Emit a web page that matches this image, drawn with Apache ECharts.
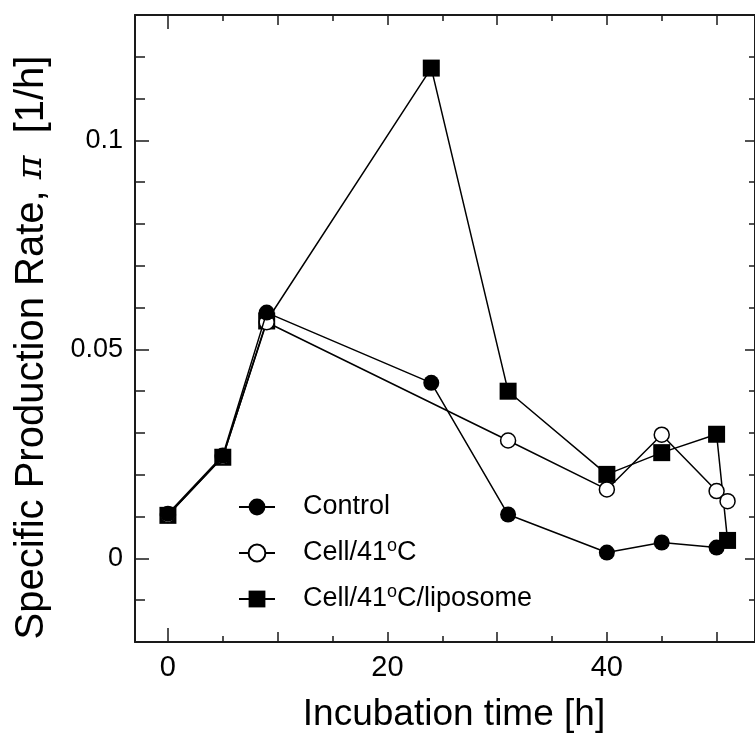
<!DOCTYPE html>
<html>
<head>
<meta charset="utf-8">
<script src="https://cdn.jsdelivr.net/npm/echarts@6/dist/echarts.min.js"></script>
<style>
  html, body { margin: 0; padding: 0; background: #fff; }
  #chart { width: 755px; height: 753px; }
</style>
</head>
<body>
<div id="chart"></div>
<script>
// Incubation time [h] for each series
var timeControl = [0, 5, 9, 24, 31, 40, 45, 50];
var timeCell41 = [0, 5, 9, 31, 40, 45, 50, 51];
var timeLiposome = [0, 5, 9, 24, 31, 40, 45, 50, 51];

// Specific production rate, pi [1/h]
var rateControl = [0.0107, 0.0246, 0.0588, 0.0420, 0.0105, 0.0014, 0.0038, 0.0026];
var rateCell41 = [0.0104, 0.0243, 0.0565, 0.0282, 0.0165, 0.0296, 0.0161, 0.0137];
var rateLiposome = [0.0103, 0.0242, 0.0568, 0.1173, 0.0400, 0.0201, 0.0253, 0.0297, 0.0043];

var seriesNames = ['Control', 'Cell/41°C', 'Cell/41°C/liposome'];

// Axis ticks and labels
var xLabelTicks = [0, 20, 40];
var xZeroTick = [0];
var xMajorTicks = [10, 20, 30, 40, 50];
var xMinorTicks = [5, 15, 25, 35, 45];
var yLabelTicks = [0, 0.05, 0.1];
var yMinorTicks = [-0.01, 0.01, 0.02, 0.03, 0.04, 0.06, 0.07, 0.08, 0.09, 0.11, 0.12];

var X_MIN = -3, X_MAX = 53.5;
var Y_MIN = -0.02, Y_MAX = 0.13;

function zip(xs, ys) {
  return xs.map(function (x, i) { return [x, ys[i]]; });
}

var FONT = 'Liberation Sans, Arial, sans-serif';
var AXIS_COLOR = '#1a1a1a';

function xAxisDef(pos, opts) {
  var base = {
    type: 'value', position: pos, min: X_MIN, max: X_MAX,
    splitLine: { show: false },
    axisLine: { show: false, onZero: false },
    axisLabel: { show: false },
    axisTick: { show: false }
  };
  return Object.assign(base, opts);
}
function yAxisDef(pos, opts) {
  var base = {
    type: 'value', position: pos, min: Y_MIN, max: Y_MAX,
    splitLine: { show: false },
    axisLine: { show: false, onZero: false },
    axisLabel: { show: false },
    axisTick: { show: false }
  };
  return Object.assign(base, opts);
}
function ticks(values, len, width) {
  return { show: true, inside: true, length: len, customValues: values,
           lineStyle: { color: AXIS_COLOR, width: width || 1.5 } };
}

var chart = echarts.init(document.getElementById('chart'), null, { renderer: 'canvas' });

var option = {
  backgroundColor: '#ffffff',
  animation: false,
  grid: { left: 135, top: 15, width: 621.5, height: 627, containLabel: false },
  legend: {
    orient: 'vertical',
    left: 238,
    top: 491,
    padding: 0,
    itemWidth: 36,
    itemHeight: 21,
    itemGap: 14,
    data: seriesNames,
    formatter: function (name) { return name.replace('°', '{sup|o}'); },
    textStyle: {
      fontFamily: FONT, fontSize: 27, color: '#000', lineHeight: 32,
      padding: [0, 0, 0, 23],
      rich: {
        sup: { fontFamily: FONT, fontSize: 18, lineHeight: 18, verticalAlign: 'top', color: '#000' }
      }
    }
  },
  xAxis: [
    xAxisDef('bottom', {
      name: 'Incubation time [h]',
      nameLocation: 'middle',
      nameGap: 54,
      nameTextStyle: { fontFamily: FONT, fontSize: 37, color: '#000', padding: [0, 0, 0, 18] },
      axisLine: { show: true, onZero: false, lineStyle: { color: AXIS_COLOR, width: 2 } },
      axisLabel: { show: true, customValues: xLabelTicks, margin: 11, fontFamily: FONT, fontSize: 29, color: '#000' },
      axisTick: ticks(xZeroTick, 14)
    }),
    xAxisDef('bottom', { axisTick: ticks(xMajorTicks, 10), axisLabel: { show: false, customValues: xMajorTicks } }),
    xAxisDef('bottom', { axisTick: ticks(xMinorTicks, 6), axisLabel: { show: false, customValues: xMinorTicks } }),
    xAxisDef('top', {
      axisLine: { show: true, onZero: false, lineStyle: { color: AXIS_COLOR, width: 2 } },
      axisTick: ticks(xZeroTick, 14), axisLabel: { show: false, customValues: xZeroTick }
    }),
    xAxisDef('top', { axisTick: ticks(xMajorTicks, 10), axisLabel: { show: false, customValues: xMajorTicks } }),
    xAxisDef('top', { axisTick: ticks(xMinorTicks, 6), axisLabel: { show: false, customValues: xMinorTicks } })
  ],
  yAxis: [
    yAxisDef('left', {
      name: 'Specific Production Rate, {pi|π}  [1/h]',
      nameLocation: 'middle',
      nameGap: 83,
      nameTextStyle: {
        fontFamily: FONT, fontSize: 40, color: '#000', padding: [0, 38, 0, 0],
        rich: { pi: { fontFamily: 'DejaVu Serif, serif', fontStyle: 'italic', fontSize: 36, color: '#000' } }
      },
      axisLine: { show: true, onZero: false, lineStyle: { color: AXIS_COLOR, width: 2 } },
      axisLabel: {
        show: true, customValues: yLabelTicks, margin: 12, fontFamily: FONT, fontSize: 27, color: '#000',
        formatter: function (v) { return v === 0 ? '0' : String(Number(v.toFixed(3))); }
      },
      axisTick: ticks(yLabelTicks, 14)
    }),
    yAxisDef('left', { axisTick: ticks(yMinorTicks, 10), axisLabel: { show: false, customValues: yMinorTicks } }),
    yAxisDef('right', {
      axisLine: { show: true, onZero: false, lineStyle: { color: AXIS_COLOR, width: 2 } },
      axisTick: ticks(yLabelTicks, 10), axisLabel: { show: false, customValues: yLabelTicks }
    }),
    yAxisDef('right', { axisTick: ticks(yMinorTicks, 6), axisLabel: { show: false, customValues: yMinorTicks } })
  ],
  series: [
    {
      name: seriesNames[2], type: 'line', data: zip(timeLiposome, rateLiposome),
      symbol: 'rect', symbolSize: 17,
      itemStyle: { color: '#000' },
      lineStyle: { color: '#000', width: 1.5 },
      z: 3
    },
    {
      name: seriesNames[1], type: 'line', data: zip(timeCell41, rateCell41),
      symbol: 'circle', symbolSize: 15, showAllSymbol: true,
      itemStyle: { color: '#fff', borderColor: '#000', borderWidth: 1.5 },
      lineStyle: { color: '#000', width: 1.5 },
      z: 4
    },
    {
      name: seriesNames[0], type: 'line', data: zip(timeControl, rateControl),
      symbol: 'circle', symbolSize: 16,
      itemStyle: { color: '#000' },
      lineStyle: { color: '#000', width: 1.5 },
      z: 5
    }
  ]
};

chart.setOption(option);
</script>
</body>
</html>
